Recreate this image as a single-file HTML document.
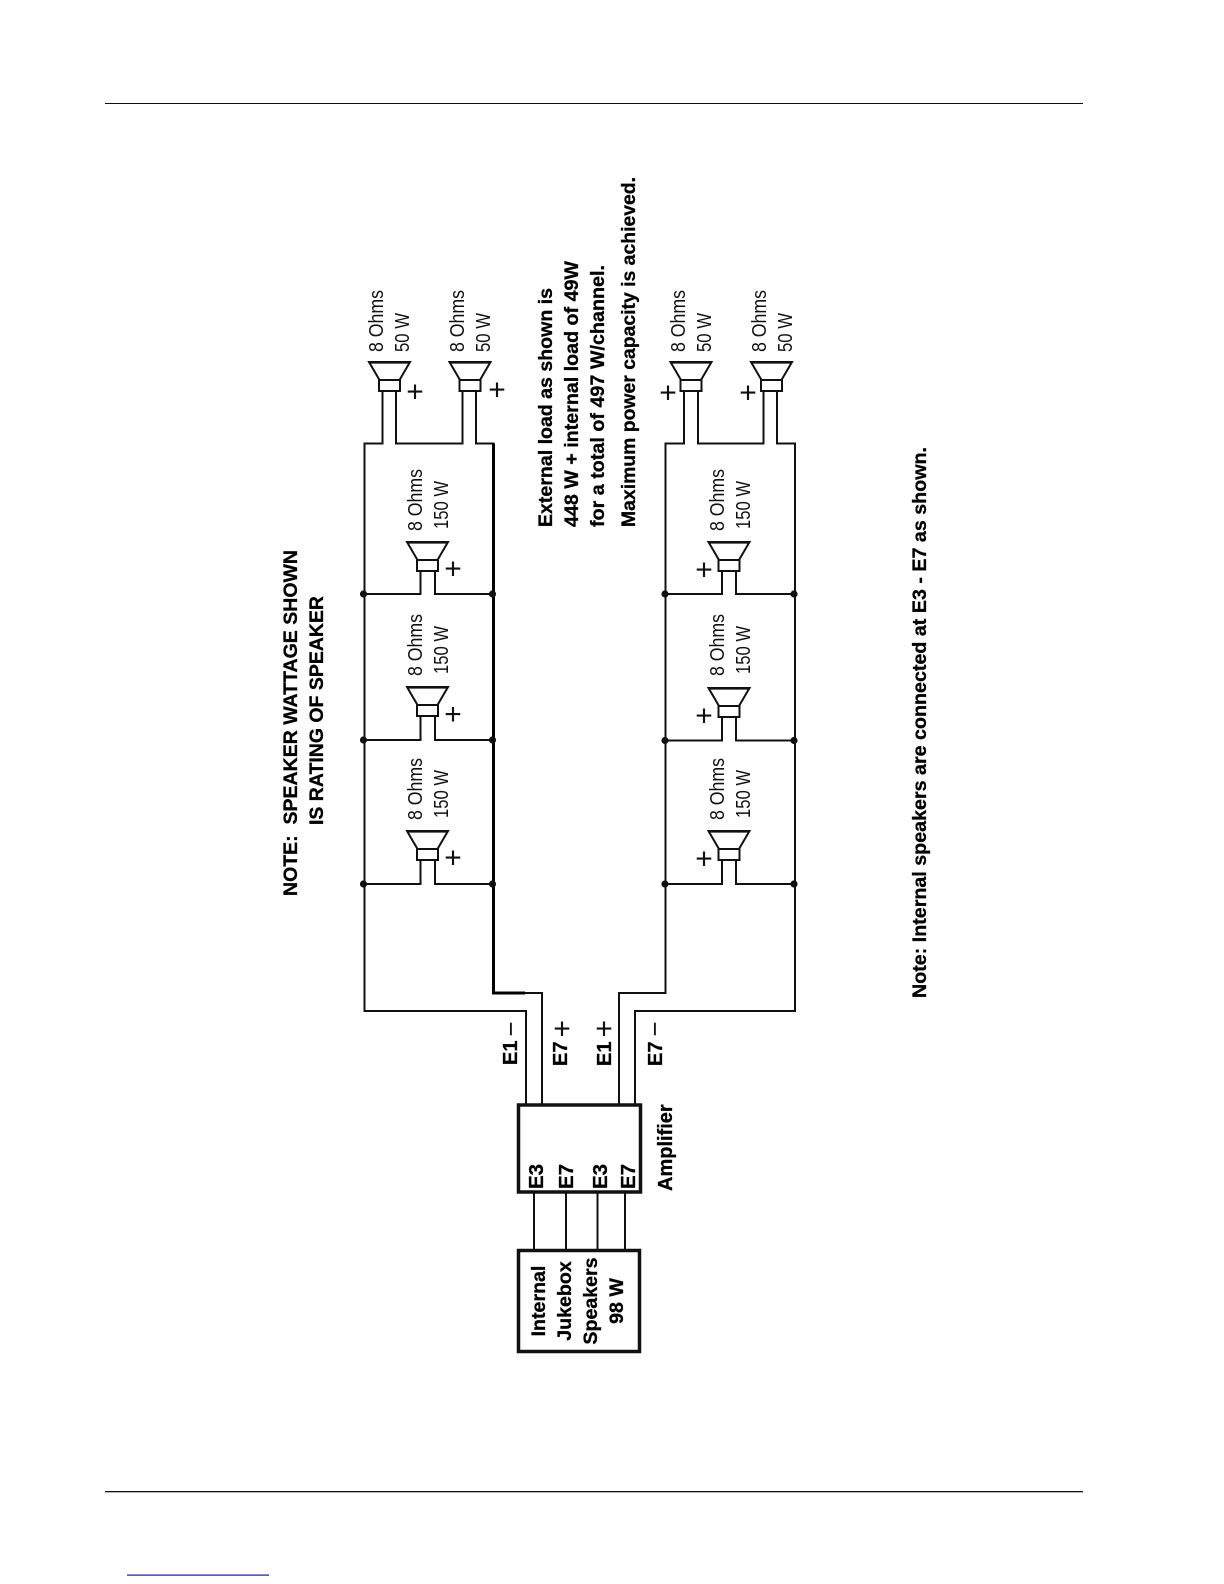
<!DOCTYPE html>
<html><head><meta charset="utf-8"><style>
html,body{margin:0;padding:0;background:#fff}
svg{display:block}
text{font-family:"Liberation Sans",sans-serif;fill:#111}
.b{font-weight:bold;fill:#000;stroke:#000;stroke-width:.3px}
.o{font-size:20.5px}
.p{font-size:30px;text-anchor:middle}
</style></head><body>
<svg width="1224" height="1584" viewBox="0 0 1224 1584" xmlns="http://www.w3.org/2000/svg">
<defs>
<g id="s" fill="#fff" stroke="#111" stroke-width="2">
<polygon points="-20.5,0 20.5,0 10,18 -10,18"/>
<rect x="-10.5" y="18" width="21" height="11"/>
<line x1="-20.5" y1="0.3" x2="20.5" y2="0.3" stroke-width="2.6"/>
</g>
</defs>
<rect width="1224" height="1584" fill="#fff"/>
<rect x="105" y="103" width="978" height="1" fill="#111"/>
<rect x="105" y="1491" width="978" height="1.3" fill="#111"/>
<rect x="127" y="1574.5" width="142" height="1.2" fill="#1a1a90"/>

<g fill="none" stroke="#111" stroke-width="2">
<!-- left group -->
<path d="M382.5 391V443.5H364.5V1011H526V1104"/>
<path d="M396 391V443.5H462.5V391"/>
<path d="M476 391V443.5H493.5V993H542V1104" />
<path d="M420.5 570V594H364.5M435 570V594H493.5"/>
<path d="M420.5 716V740H364.5M435 716V740H493.5"/>
<path d="M420.5 860V884H364.5M435 860V884H493.5"/>
<!-- right group -->
<path d="M684 391V443.5H665.5V993H619V1104"/>
<path d="M698 391V443.5H763.5V391"/>
<path d="M777 391V443.5H795V1011H635V1104"/>
<path d="M722 570V594H665.5M736 570V594H795"/>
<path d="M722 716V740.5H665.5M736 716V740.5H795"/>
<path d="M722 860V884H665.5M736 860V884H795"/>
<!-- amp connections -->
<path d="M534 1192V1250M566 1192V1250M597.5 1192V1250M625 1192V1250"/>
</g>
<path d="M493.5 443.5V993H525" fill="none" stroke="#000" stroke-width="3"/>

<g fill="none" stroke="#111" stroke-width="3.5">
<rect x="518.5" y="1105" width="122" height="87"/>
<rect x="518.5" y="1250.5" width="121" height="101"/>
</g>

<use href="#s" x="389.5" y="362"/><use href="#s" x="470" y="362"/>
<use href="#s" x="691" y="362"/><use href="#s" x="771.5" y="362"/>
<use href="#s" x="427.5" y="542"/><use href="#s" x="427.5" y="687"/><use href="#s" x="427.5" y="831"/>
<use href="#s" x="729" y="542"/><use href="#s" x="729" y="688"/><use href="#s" x="729" y="831"/>

<g fill="#111">
<circle cx="363.5" cy="594" r="3.6"/><circle cx="363.5" cy="740" r="3.6"/><circle cx="363.5" cy="884" r="3.6"/>
<circle cx="492.5" cy="594" r="3.6"/><circle cx="492.5" cy="740" r="3.6"/><circle cx="492.5" cy="884" r="3.6"/>
<circle cx="665" cy="594" r="3.6"/><circle cx="665" cy="740.5" r="3.6"/><circle cx="665" cy="884" r="3.6"/>
<circle cx="794" cy="594" r="3.6"/><circle cx="794" cy="740.5" r="3.6"/><circle cx="794" cy="884" r="3.6"/>
</g>

<!-- speaker labels -->
<text class="o" transform="translate(383,352) rotate(-90)" textLength="62" lengthAdjust="spacingAndGlyphs">8 Ohms</text>
<text class="o" transform="translate(409,352) rotate(-90)" textLength="39" lengthAdjust="spacingAndGlyphs">50 W</text>
<text class="o" transform="translate(464,352) rotate(-90)" textLength="62" lengthAdjust="spacingAndGlyphs">8 Ohms</text>
<text class="o" transform="translate(490,352) rotate(-90)" textLength="39" lengthAdjust="spacingAndGlyphs">50 W</text>
<text class="o" transform="translate(685,352) rotate(-90)" textLength="62" lengthAdjust="spacingAndGlyphs">8 Ohms</text>
<text class="o" transform="translate(711,352) rotate(-90)" textLength="39" lengthAdjust="spacingAndGlyphs">50 W</text>
<text class="o" transform="translate(766,352) rotate(-90)" textLength="62" lengthAdjust="spacingAndGlyphs">8 Ohms</text>
<text class="o" transform="translate(792,352) rotate(-90)" textLength="39" lengthAdjust="spacingAndGlyphs">50 W</text>

<text class="o" transform="translate(422,531) rotate(-90)" textLength="62" lengthAdjust="spacingAndGlyphs">8 Ohms</text>
<text class="o" transform="translate(448,529) rotate(-90)" textLength="48" lengthAdjust="spacingAndGlyphs">150 W</text>
<text class="o" transform="translate(422,676) rotate(-90)" textLength="62" lengthAdjust="spacingAndGlyphs">8 Ohms</text>
<text class="o" transform="translate(448,674) rotate(-90)" textLength="48" lengthAdjust="spacingAndGlyphs">150 W</text>
<text class="o" transform="translate(422,820) rotate(-90)" textLength="62" lengthAdjust="spacingAndGlyphs">8 Ohms</text>
<text class="o" transform="translate(448,818) rotate(-90)" textLength="48" lengthAdjust="spacingAndGlyphs">150 W</text>

<text class="o" transform="translate(724,531) rotate(-90)" textLength="62" lengthAdjust="spacingAndGlyphs">8 Ohms</text>
<text class="o" transform="translate(750,529) rotate(-90)" textLength="48" lengthAdjust="spacingAndGlyphs">150 W</text>
<text class="o" transform="translate(724,676) rotate(-90)" textLength="62" lengthAdjust="spacingAndGlyphs">8 Ohms</text>
<text class="o" transform="translate(750,674) rotate(-90)" textLength="48" lengthAdjust="spacingAndGlyphs">150 W</text>
<text class="o" transform="translate(724,820) rotate(-90)" textLength="62" lengthAdjust="spacingAndGlyphs">8 Ohms</text>
<text class="o" transform="translate(750,818) rotate(-90)" textLength="48" lengthAdjust="spacingAndGlyphs">150 W</text>

<!-- plus signs -->
<text class="p" x="415" y="401.5">+</text>
<text class="p" x="497" y="399.5">+</text>
<text class="p" x="668" y="402.5">+</text>
<text class="p" x="748" y="402.5">+</text>
<text class="p" x="453" y="578.5">+</text>
<text class="p" x="453" y="724">+</text>
<text class="p" x="453" y="867.5">+</text>
<text class="p" x="704" y="579.5">+</text>
<text class="p" x="704" y="725.5">+</text>
<text class="p" x="704" y="868.5">+</text>

<!-- wire labels -->
<text class="b" font-size="20" transform="translate(517,1065) rotate(-90)">E1</text>
<text class="b" font-size="20" transform="translate(567,1066) rotate(-90)">E7</text>
<text class="b" font-size="20" transform="translate(611,1066) rotate(-90)">E1</text>
<text class="b" font-size="20" transform="translate(662,1066) rotate(-90)">E7</text>
<text font-size="26" transform="translate(519.5,1036.6) rotate(-90)">−</text>
<text font-size="26" transform="translate(663.5,1036.6) rotate(-90)">−</text>
<text class="p" x="562" y="1038.5">+</text>
<text class="p" x="604" y="1038.5">+</text>

<!-- amplifier -->
<text class="b" font-size="20.5" transform="translate(543,1189) rotate(-90)">E3</text>
<text class="b" font-size="20.5" transform="translate(573,1189) rotate(-90)">E7</text>
<text class="b" font-size="20.5" transform="translate(607,1189) rotate(-90)">E3</text>
<text class="b" font-size="20.5" transform="translate(635,1189) rotate(-90)">E7</text>
<text class="b" font-size="20" transform="translate(672,1191) rotate(-90)">Amplifier</text>

<!-- internal box -->
<text class="b" font-size="19.6" text-anchor="middle" transform="translate(545,1301) rotate(-90)">Internal</text>
<text class="b" font-size="19.6" text-anchor="middle" transform="translate(571,1301) rotate(-90)">Jukebox</text>
<text class="b" font-size="19.6" text-anchor="middle" transform="translate(597,1301) rotate(-90)">Speakers</text>
<text class="b" font-size="19.6" text-anchor="middle" transform="translate(623,1301) rotate(-90)">98 W</text>

<!-- notes -->
<text class="b" font-size="19.5" transform="translate(297,896) rotate(-90)" textLength="346" lengthAdjust="spacingAndGlyphs">NOTE:&#160; SPEAKER WATTAGE SHOWN</text>
<text class="b" font-size="19.5" transform="translate(323,825) rotate(-90)" textLength="229" lengthAdjust="spacingAndGlyphs">IS RATING OF SPEAKER</text>

<text class="b" font-size="19.5" transform="translate(552,527) rotate(-90)" textLength="239" lengthAdjust="spacingAndGlyphs">External load as shown is</text>
<text class="b" font-size="19.5" transform="translate(578,527) rotate(-90)" textLength="266" lengthAdjust="spacingAndGlyphs">448 W + internal load of 49W</text>
<text class="b" font-size="19.5" transform="translate(604,527) rotate(-90)" textLength="262" lengthAdjust="spacingAndGlyphs">for a total of 497 W/channel.</text>
<text class="b" font-size="19.5" transform="translate(635,527) rotate(-90)" textLength="350" lengthAdjust="spacingAndGlyphs">Maximum power capacity is achieved.</text>

<text class="b" font-size="19.5" transform="translate(926,998) rotate(-90)" textLength="551" lengthAdjust="spacingAndGlyphs">Note: Internal speakers are connected at E3 - E7 as shown.</text>
</svg>
</body></html>
